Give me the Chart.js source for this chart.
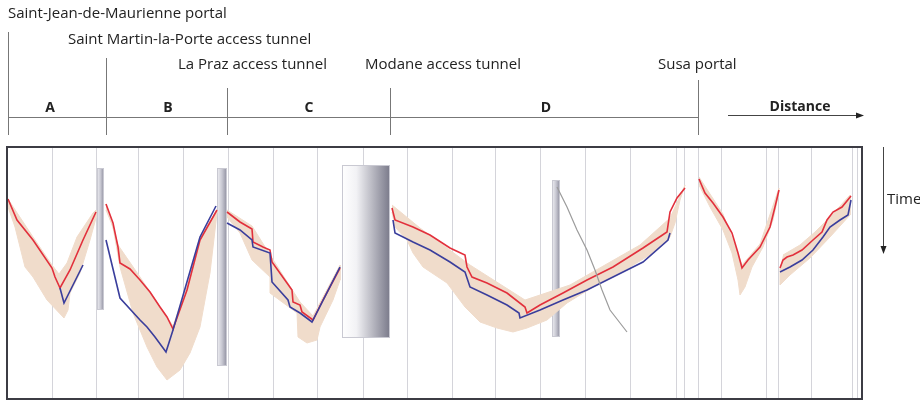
<!DOCTYPE html>
<html>
<head>
<meta charset="utf-8">
<script src="https://cdn.jsdelivr.net/npm/chart.js@4.4.1/dist/chart.umd.min.js"></script>
<style>
html,body{margin:0;padding:0;background:#fff;}
#wrap{width:920px;height:403px;}
</style>
</head>
<body>
<div id="wrap"><canvas id="chart" width="920" height="403"></canvas></div>
<script>
// distance along the tunnel (x) and elapsed time (y, grows downward), in drawing units
const portals = [1, 99, 220, 383, 691]
const portalNames = ["Saint-Jean-de-Maurienne portal", "Saint Martin-la-Porte access tunnel", "La Praz access tunnel", "Modane access tunnel", "Susa portal"]
const sections = ["A", "B", "C", "D"]
const gridMarks = [45, 89, 131, 176, 221, 266, 310, 356, 400, 445, 488, 533, 578, 623, 669, 677, 691, 714, 759, 771, 804, 845, 850]

// access shafts: [from, to, startTime, endTime]
const shafts = [[90, 97, 21, 163], [210, 220, 21, 219], [335, 383, 18, 191], [545, 553, 33, 190]]

const redA = [[1,52],[10,73],[26,93],[45,121],[48,130],[53,141],[63,123],[76,93],[89,65]]
const blueA = [[53,141],[57,156],[76,118]]
const bandA_top = [[1,52],[26,90],[45,118],[52,127],[60,116],[70,90],[86,66],[89,63]]
const bandA_bottom = [[89,71],[83,93],[73,126],[63,146],[61,163],[57,171],[40,153],[26,130],[18,120],[8,80],[1,60]]

const redB = [[99,57],[106,76],[111,100],[113,116],[123,122],[133,133],[143,145],[153,160],[160,170],[166,182],[180,143],[193,93],[210,63]]
const blueB = [[99,93],[113,151],[133,173],[140,180],[148,190],[159,205],[166,183],[193,90],[209,59]]
const bandB_top = [[99,57],[111,98],[133,130],[166,179],[180,139],[193,90],[210,63]]
const bandB_bottom = [[210,66],[203,126],[193,180],[183,206],[173,223],[160,233],[150,220],[140,200],[126,166],[113,120],[106,80],[99,63]]

const redC = [[220,65],[233,75],[245,82],[246,95],[256,100],[263,103],[265,115],[280,136],[285,143],[286,155],[293,158],[295,165],[306,173],[316,153],[333,121]]
const blueC = [[220,76],[233,83],[245,93],[246,100],[263,106],[265,135],[281,153],[283,160],[293,166],[305,175],[333,120]]
const bandC_top = [[220,63],[245,79],[265,111],[293,155],[306,169],[333,118]]
const bandC_bottom = [[333,133],[326,153],[313,180],[310,193],[300,196],[291,190],[290,166],[263,146],[263,130],[245,113],[233,86],[220,70]]

const redD = [[385,61],[388,73],[406,80],[423,88],[443,101],[458,108],[460,120],[465,130],[480,136],[500,146],[518,160],[520,166],[533,158],[556,146],[580,133],[606,120],[636,101],[660,85],[663,65],[670,51],[678,41]]
const blueD = [[386,73],[388,86],[406,95],[423,103],[443,115],[458,125],[463,140],[480,148],[500,158],[512,166],[513,171],[533,163],[556,153],[580,143],[606,130],[636,115],[661,93],[663,86]]
const bandD_top = [[385,58],[413,81],[463,118],[518,153],[563,138],[633,98],[663,71],[678,38]]
const bandD_bottom = [[673,53],[668,76],[663,90],[646,106],[613,126],[586,140],[560,156],[540,173],[520,181],[506,185],[490,181],[473,175],[458,160],[440,136],[416,120],[406,106],[400,93],[388,80],[385,65]]

const redE1 = [[692,32],[698,46],[706,56],[716,70],[725,86],[731,106],[735,121],[741,113],[753,100],[763,80],[768,60],[772,43]]
const bandE1_top = [[692,30],[716,67],[735,118],[753,97],[772,41]]
const bandE1_bottom = [[771,50],[766,73],[756,100],[745,120],[738,140],[733,148],[731,133],[725,106],[716,83],[703,60],[692,38]]

const redE2 = [[773,121],[776,113],[780,110],[786,108],[795,103],[806,93],[815,85],[820,73],[826,65],[835,60],[844,49]]
const blueE2 = [[773,125],[783,120],[795,113],[806,103],[816,90],[823,80],[833,73],[841,68],[844,53]]
const bandE2_top = [[776,108],[793,98],[808,85],[823,70],[843,48]]
const bandE2_bottom = [[843,68],[823,90],[803,111],[783,128],[773,138],[773,121]]

const probeLine = [[550,40],[560,60],[570,83],[580,103],[588,123],[595,143],[603,163],[620,185]]

const pts = a => a.map(p => ({x: p[0], y: p[1]}))

const RED = "#e2303c"
const BLUE = "#3a3e9c"
const BAND = "#f0dccb"

const datasets = []

function band(top, bottom){
datasets.push({data: pts(top.concat(bottom)), showLine: true, fill: "shape", backgroundColor: BAND, borderColor: BAND, borderWidth: 1, pointRadius: 0, order: 3})
}
function line(a, color){
datasets.push({data: pts(a), showLine: true, fill: false, borderColor: color, borderWidth: 1.6, pointRadius: 0, order: 1})
}

band(bandA_top, bandA_bottom)
band(bandB_top, bandB_bottom)
band(bandC_top, bandC_bottom)
band(bandD_top, bandD_bottom)
band(bandE1_top, bandE1_bottom)
band(bandE2_top, bandE2_bottom)

line(blueA, BLUE); line(redA, RED)
line(blueB, BLUE); line(redB, RED)
line(blueC, BLUE); line(redC, RED)
line(blueD, BLUE); line(redD, RED)
line(redE1, RED)
line(blueE2, BLUE); line(redE2, RED)

datasets.push({data: pts(probeLine), showLine: true, borderColor: "#9c9c9c", borderWidth: 1.2, pointRadius: 0, order: 0})

const shaftsPlugin = {
id: "shafts",
beforeDatasetsDraw(chart){
const c = chart.ctx, xs = chart.scales.x, ys = chart.scales.y
c.save()
shafts.forEach((s, i) => {
const x0 = xs.getPixelForValue(s[0]), x1 = xs.getPixelForValue(s[1])
const y0 = ys.getPixelForValue(s[2]), y1 = ys.getPixelForValue(s[3])
const g = c.createLinearGradient(x0, 0, x1, 0)
if (x1 - x0 > 20) {
g.addColorStop(0, "#ffffff"); g.addColorStop(0.3, "#f2f2f5"); g.addColorStop(1, "#7a7a8a")
} else {
g.addColorStop(0, "#f0f0f4"); g.addColorStop(0.5, "#c8c8d2"); g.addColorStop(1, "#8e8e9e")
}
c.fillStyle = g
c.fillRect(x0, y0, x1 - x0, y1 - y0)
c.strokeStyle = "#c9c9d2"
c.lineWidth = 1
c.strokeRect(x0 + 0.5, y0 + 0.5, x1 - x0 - 1, y1 - y0 - 1)
})
c.restore()
}
}

// header text placement (pixels)
const labelLeft = [8, 68, 178, 365, 658]
const labelY = [14, 40, 65, 65, 65]
const tickTop = [32, 58, 88, 88, 80]
const letterX = [50, 168, 309, 546]

const headerPlugin = {
id: "header",
afterDraw(chart){
const c = chart.ctx, xs = chart.scales.x, a = chart.chartArea
c.save()
c.strokeStyle = "#3c3c44"
c.lineWidth = 2
c.strokeRect(a.left, a.top, a.right - a.left, a.bottom - a.top)

c.fillStyle = "#222"
c.font = "15px 'Open Sans'"
c.textBaseline = "middle"
c.textAlign = "left"
portalNames.forEach((n, i) => c.fillText(n, labelLeft[i], labelY[i]))

c.strokeStyle = "#777"
c.lineWidth = 1
portals.forEach((p, i) => {
const x = Math.round(xs.getPixelForValue(p)) + 0.5
c.beginPath(); c.moveTo(x, tickTop[i]); c.lineTo(x, 135); c.stroke()
})
c.beginPath()
c.moveTo(xs.getPixelForValue(portals[0]), 117.5)
c.lineTo(xs.getPixelForValue(portals[portals.length - 1]), 117.5)
c.stroke()

c.font = "bold 14px 'Open Sans'"
c.textAlign = "center"
sections.forEach((s, i) => c.fillText(s, letterX[i], 108))
c.fillText("Distance", 800, 107)

// distance arrow
c.strokeStyle = "#444"
c.beginPath(); c.moveTo(728, 115.5); c.lineTo(858, 115.5); c.stroke()
c.beginPath(); c.moveTo(864, 115.5); c.lineTo(856, 112.5); c.lineTo(856, 118.5); c.closePath(); c.fill()

// time arrow
c.beginPath(); c.moveTo(883.5, 147); c.lineTo(883.5, 247); c.stroke()
c.beginPath(); c.moveTo(883.5, 254); c.lineTo(880.5, 246); c.lineTo(886.5, 246); c.closePath(); c.fill()
c.font = "15px 'Open Sans'"
c.textAlign = "left"
c.fillText("Time", 887, 200)
c.restore()
}
}

const ctx = document.getElementById("chart").getContext("2d")

new Chart(ctx, {
type: "scatter",
data: {datasets: datasets},
options: {
responsive: false,
animation: false,
layout: {padding: {left: 7, right: 58, top: 147, bottom: 4}},
plugins: {legend: {display: false}, tooltip: {enabled: false}},
elements: {line: {tension: 0}, point: {radius: 0}},
scales: {
x: {
type: "linear", min: 0, max: 855,
afterBuildTicks: s => { s.ticks = gridMarks.map(v => ({value: v})) },
ticks: {display: false},
grid: {color: "#d4d4da", lineWidth: 1, drawTicks: false},
border: {display: false}
},
y: {min: 0, max: 252, reverse: true, display: false}
}
},
plugins: [shaftsPlugin, headerPlugin]
})
</script>
</body>
</html>
